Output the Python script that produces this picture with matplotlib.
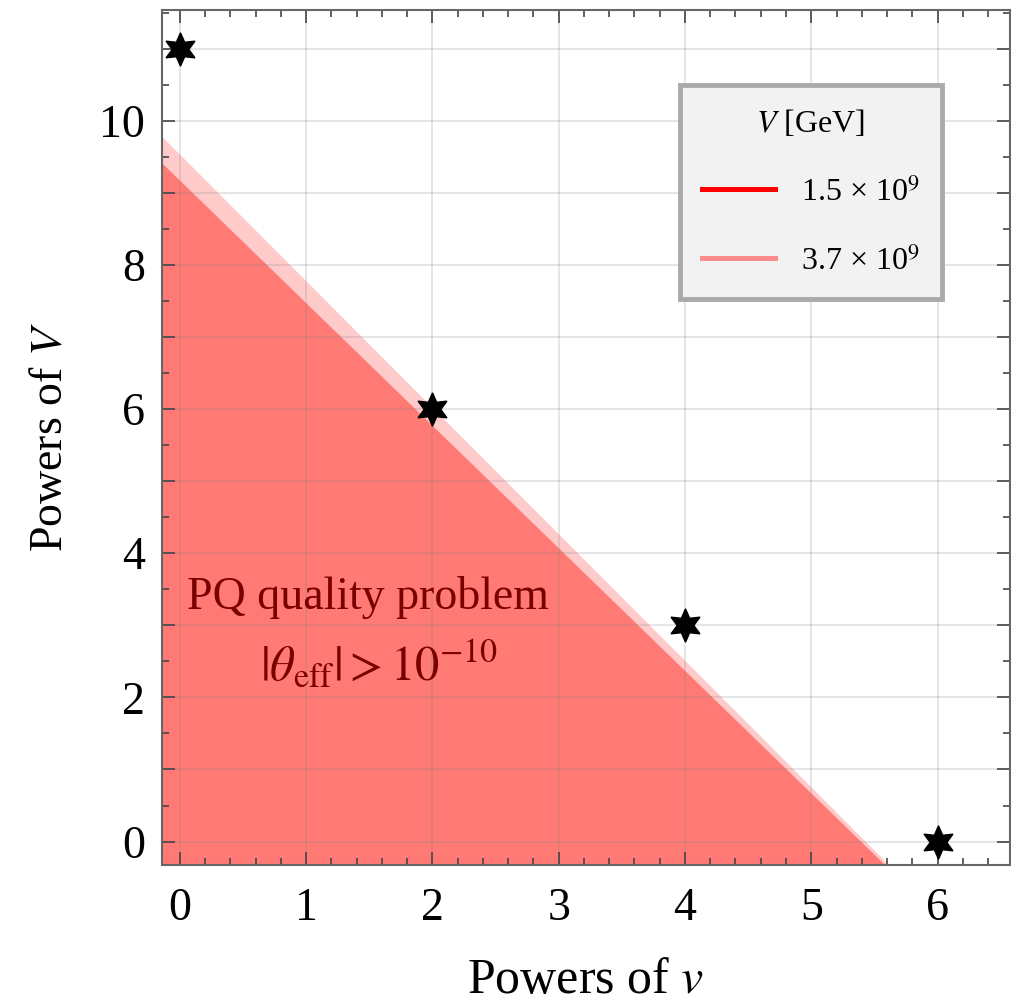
import numpy as np
import matplotlib
matplotlib.use("Agg")
import matplotlib.pyplot as plt
from matplotlib.lines import Line2D
from matplotlib.ticker import MultipleLocator, FuncFormatter

plt.rcParams['font.family'] = ['Liberation Serif', 'DejaVu Serif']
plt.rcParams['mathtext.fontset'] = 'stix'

# ---- data ----
# operator points (powers of v, powers of V)
pts_v = [0, 2, 4, 6]
pts_V = [11, 6, 3, 0]

# boundary lines of the excluded region: V-power = intercept + slope * v-power
legend_labels = ["1.5 × 10$^{9}$", "3.7 × 10$^{9}$"]
line_colors = ["#FF0000", "#FF8C8C"]
fill_colors = ["#FF7A75", "#FFCACA"]
intercepts = [9.17, 9.53]
slopes = [-1.70, -1.755]

xlim = (-0.143, 6.574)
ylim = (-0.323, 11.535)

fig = plt.figure(figsize=(10.12, 10.08), dpi=100)
ax = fig.add_axes([0.160, 0.142, 0.838, 0.848])

xs = np.linspace(xlim[0], xlim[1], 400)
for i in [1, 0]:
    ys = intercepts[i] + slopes[i] * xs
    ax.fill_between(xs, ylim[0], ys, where=ys > ylim[0], color=fill_colors[i],
                    linewidth=0, zorder=1, interpolate=True)

ax.plot(pts_v, pts_V, linestyle='none', marker=(6, 1, 0), markersize=24,
        color='black', zorder=5)

ax.set_xlim(*xlim)
ax.set_ylim(*ylim)

ax.xaxis.set_major_locator(MultipleLocator(1))
ax.xaxis.set_minor_locator(MultipleLocator(0.2))
ax.yaxis.set_major_locator(MultipleLocator(1))
ax.yaxis.set_minor_locator(MultipleLocator(0.5))
ax.yaxis.set_major_formatter(FuncFormatter(lambda v, p: f"{int(round(v))}" if int(round(v)) % 2 == 0 else ""))
ax.xaxis.set_major_formatter(FuncFormatter(lambda v, p: f"{int(round(v))}"))

ax.tick_params(which='both', direction='in', top=True, right=True, color='#444444', width=1.2)
ax.tick_params(which='major', length=9.5, labelsize=33, pad=16)
ax.tick_params(which='minor', length=5)
ax.tick_params(axis='y', which='major', pad=12)

ax.grid(True, which='major', color='#808080', alpha=0.22, linewidth=1.3, zorder=2)
ax.set_axisbelow(False)
for s in ax.spines.values():
    s.set_color('#666666')
    s.set_linewidth(1.5)
    s.set_zorder(6)

ax.set_xlabel(r"Powers of $v$", fontsize=36, labelpad=20)
ax.set_ylabel(r"Powers of $V$", fontsize=33, labelpad=20)

ax.text(1.49, 3.38, "PQ quality problem", color="#7A0000", fontsize=33,
        ha='center', va='center', zorder=4)
ax.text(1.58, 2.45, r"$|\theta_{\mathrm{eff}}| > 10^{-10}$", color="#7A0000", fontsize=35,
        ha='center', va='center', zorder=4)

handles = [Line2D([], [], color=c, linewidth=3.6) for c in line_colors]
leg = ax.legend(handles, legend_labels, title=r"$V$ [GeV]", loc='upper right',
                bbox_to_anchor=(0.920, 0.912), borderaxespad=0, fontsize=23, title_fontsize=23,
                frameon=True, fancybox=False, framealpha=1, handlelength=2.3,
                labelspacing=1.2, borderpad=0.7, handletextpad=0.8)
leg.get_frame().set_facecolor('#F2F2F2')
leg.get_frame().set_edgecolor('#AAAAAA')
leg.get_frame().set_linewidth(3.5)
leg.set_zorder(7)

fig.savefig("out.png", dpi=100)
